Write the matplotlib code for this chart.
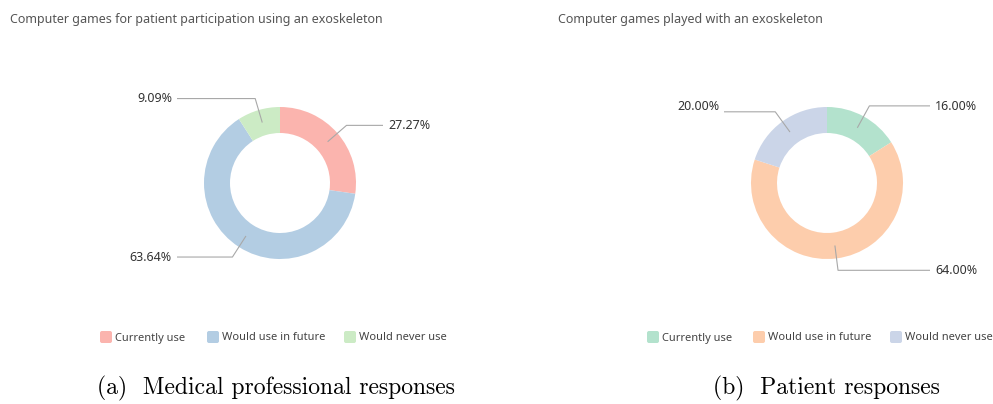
import numpy as np
import matplotlib
matplotlib.use("Agg")
import matplotlib.pyplot as plt
from matplotlib.patches import FancyBboxPatch

# Survey answers (percent of respondents)
categories = ["Currently use", "Would use in future", "Would never use"]
medical_values = [27.27, 63.64, 9.09]
patient_values = [16.00, 64.00, 20.00]

titles = ["Computer games for patient participation using an exoskeleton",
          "Computer games played with an exoskeleton"]
captions = ["(a)  Medical professional responses", "(b)  Patient responses"]

medical_colors = ["#FBB4AE", "#B3CDE3", "#CCEBC5"]
patient_colors = ["#B3E2CD", "#FDCDAC", "#CBD5E8"]

W, H = 993, 404
fig = plt.figure(figsize=(W / 100, H / 100), dpi=100)
ax = fig.add_axes([0, 0, 1, 1])
ax.set_xlim(0, W)
ax.set_ylim(0, H)
ax.set_aspect("equal")
ax.axis("off")

SANS = "Noto Sans"
R_OUT, R_IN = 76, 50
R_MID = (R_OUT + R_IN) / 2
R_ELBOW = 88
ARM = 103


def px(y):
    """Convert a top-down pixel row to the axes' bottom-up coordinate."""
    return H - y


def donut(cx, cy, values, colors, label_shift):
    c = (cx, px(cy))
    ax.pie(values, colors=colors, startangle=90, counterclock=False,
           center=c, radius=R_OUT,
           wedgeprops=dict(width=R_OUT - R_IN, edgecolor="none"))
    total = float(sum(values))
    start = 90.0
    for v, dy in zip(values, label_shift):
        sweep = v / total * 360.0
        mid = np.deg2rad(start - sweep / 2)
        start -= sweep
        x0, y0 = c[0] + R_MID * np.cos(mid), c[1] + R_MID * np.sin(mid)
        x1, y1 = c[0] + R_ELBOW * np.cos(mid), c[1] + R_ELBOW * np.sin(mid)
        side = 1 if np.cos(mid) >= 0 else -1
        x2 = c[0] + side * ARM
        ax.plot([x0, x1, x2], [y0, y1, y1], color="#a8a8a8", lw=0.8,
                solid_capstyle="butt")
        ax.text(x2 + side * 5, y1 + dy, f"{v:.2f}%",
                ha="left" if side > 0 else "right", va="center",
                fontsize=9, color="#333333", family=SANS)


def legend(xs, colors):
    for x, name, col in zip(xs, categories, colors):
        ax.add_patch(FancyBboxPatch((x, px(343)), 12, 12,
                                    boxstyle="round,pad=0,rounding_size=2",
                                    facecolor=col, edgecolor="none"))
        ax.text(x + 15, px(338), name, ha="left", va="center", fontsize=8,
                color="#444444", family=SANS)


donut(280, 183, medical_values, medical_colors, [0, 0, 0])
donut(827, 183, patient_values, patient_colors, [-1, 0, 5])

ax.text(10, px(20), titles[0], ha="left", va="center", fontsize=9,
        color="#555555", family=SANS)
ax.text(558, px(20), titles[1], ha="left", va="center", fontsize=9,
        color="#555555", family=SANS)

legend([100, 207, 344], medical_colors)
legend([647, 753, 890], patient_colors)

ax.text(97, px(388), captions[0], ha="left", va="center", fontsize=17,
        family="cmr10", color="black")
ax.text(713, px(388), captions[1], ha="left", va="center", fontsize=17,
        family="cmr10", color="black")

ax.set_xlim(0, W)
ax.set_ylim(0, H)
fig.savefig("out.png", dpi=100)
